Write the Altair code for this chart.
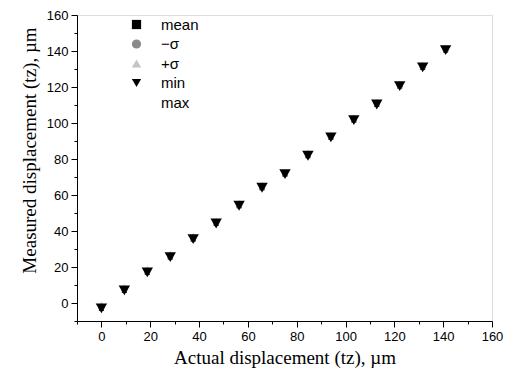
import altair as alt
import pandas as pd

actual = [0, 9.4, 18.8, 28.2, 37.6, 47.0, 56.4, 65.8, 75.2, 84.6, 94.0, 103.4, 112.8, 122.2, 131.6, 141.0]
mean_v = [-3.0, 7.0, 17.0, 25.5, 35.5, 44.2, 54.0, 64.0, 71.6, 81.8, 92.0, 101.6, 110.3, 120.5, 130.9, 140.5]
minus_sigma = [-2.4, 7.6, 17.5, 26.1, 36.1, 44.7, 54.5, 64.5, 72.1, 82.4, 92.5, 102.1, 110.8, 121.0, 131.4, 141.0]
plus_sigma = [-0.9, 9.0, 18.9, 27.4, 37.4, 45.9, 55.7, 65.6, 73.1, 83.6, 93.6, 103.2, 111.9, 122.0, 132.4, 142.0]
min_v = [-3.0, 7.0, 17.0, 25.5, 35.5, 44.2, 54.0, 64.0, 71.6, 81.8, 92.0, 101.6, 110.3, 120.5, 130.9, 140.5]
max_v = [-0.6, 9.3, 19.2, 27.8, 37.8, 46.3, 56.1, 66.0, 73.5, 84.0, 94.0, 103.6, 112.3, 122.4, 132.8, 142.4]

series_names = ["mean", "\u2212\u03c3", "+\u03c3", "min", "max"]
draw_order = ["max", "mean", "+\u03c3", "\u2212\u03c3", "min"]
marker_sizes = {"max": 40, "mean": 25, "+\u03c3": 45, "\u2212\u03c3": 40, "min": 130}
series_values = {
    "mean": mean_v,
    "\u2212\u03c3": minus_sigma,
    "+\u03c3": plus_sigma,
    "min": min_v,
    "max": max_v,
}

rows = []
for name in draw_order:
    for xa, ym in zip(actual, series_values[name]):
        rows.append({"actual": xa, "measured": ym, "series": name})
df = pd.DataFrame(rows)

tick_vals = list(range(-10, 161, 10))
minor_test = "datum.value % 20 !== 0"

x_axis = alt.Axis(
    values=tick_vals,
    labelExpr="datum.value % 20 === 0 ? datum.label : ''",
    tickSize={"condition": {"test": minor_test, "value": 3}, "value": 6},
    title="Actual displacement (tz), \u00b5m",
    titleFont="Liberation Serif", titleFontSize=19, titleFontWeight="normal",
    titleColor="black", titlePadding=5,
    labelFont="Liberation Sans", labelFontSize=13, labelColor="black",
    labelPadding=3, domainColor="black", tickColor="black", grid=False,
    labelFlush=False, labelOverlap=False,
)
y_axis = alt.Axis(
    values=tick_vals,
    labelExpr="datum.value % 20 === 0 ? datum.label : ''",
    tickSize={"condition": {"test": minor_test, "value": 3}, "value": 6},
    title="Measured displacement (tz), \u00b5m",
    titleFont="Liberation Serif", titleFontSize=19, titleFontWeight="normal",
    titleColor="black", titlePadding=7, titleY=135,
    labelFont="Liberation Sans", labelFontSize=13, labelColor="black",
    labelPadding=3, domainColor="black", tickColor="black", grid=False,
    labelFlush=False, labelOverlap=False,
)

legend = alt.Legend(
    orient="none", legendX=52, legendY=2, title=None,
    labelFont="Liberation Sans", labelFontSize=15, labelColor="black",
    rowPadding=3.5, labelOffset=17, padding=0,
    symbolStrokeWidth=0, symbolSize=85,
)

xenc = alt.X("actual:Q", scale=alt.Scale(domain=[-10, 160], nice=False, zero=False), axis=x_axis)
yenc = alt.Y("measured:Q", scale=alt.Scale(domain=[-10, 160], nice=False, zero=False), axis=y_axis)
cenc = alt.Color(
    "series:N",
    scale=alt.Scale(domain=series_names,
                    range=["black", "#8a8a8a", "#c4c4c4", "black", "transparent"]),
    legend=legend,
)
senc = alt.Shape(
    "series:N",
    scale=alt.Scale(domain=series_names,
                    range=["square", "circle", "triangle-up", "triangle-down", "cross"]),
    legend=legend,
)

base = alt.Chart(df)
layers = []
for name in draw_order:
    layers.append(
        base.transform_filter(alt.datum.series == name)
        .mark_point(filled=True, opacity=1, strokeWidth=0, size=marker_sizes[name])
        .encode(x=xenc, y=yenc, color=cenc, shape=senc)
    )

chart = (
    alt.layer(*layers)
    .properties(
        width=415, height=306,
        autosize=alt.AutoSizeParams(type="none"),
        padding={"left": 77, "top": 15, "right": 23, "bottom": 64},
    )
    .configure_view(stroke=None)
    .configure(background="white")
)

chart.save("out.html", embed_options={"renderer": "svg", "actions": False})
